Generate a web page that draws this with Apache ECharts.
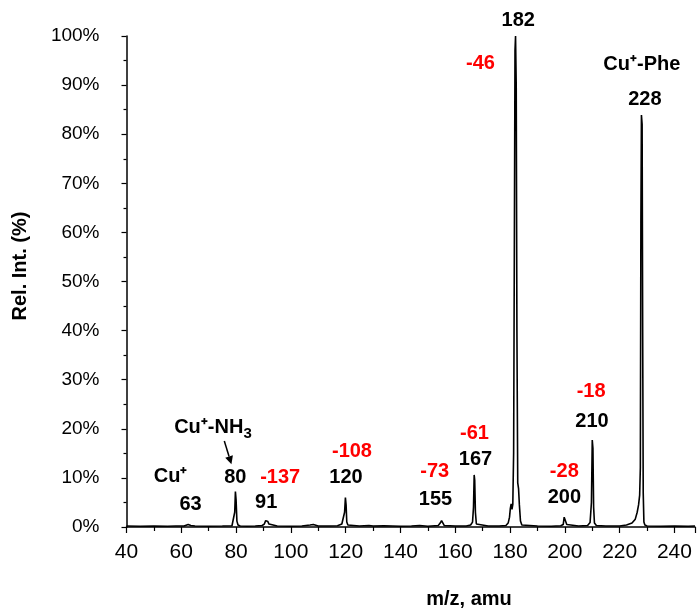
<!DOCTYPE html>
<html><head><meta charset="utf-8">
<script src="https://cdn.jsdelivr.net/npm/echarts@6/dist/echarts.min.js"></script>
<style>html,body{margin:0;padding:0;background:#fff}#c{width:698px;height:610px}</style>
</head><body><div id="c"></div>
<script>
// m/z values of the spectrum trace
const mz = [40,45,50,55,58,61,62.5,63,63.5,65,70,75,78.5,79.2,79.5,79.75,80.0,80.3,80.7,81.5,84,87,89.5,90.3,90.8,91.2,91.6,92.0,92.6,95,100,104,107,107.6,108.2,110,114,117,118.6,119.3,119.6,119.9,120.15,120.4,120.8,121.5,125,128.5,129.2,130,134,137,140,144,147,150,153.8,154.5,155.0,155.4,156,160,164,165.6,166.3,166.65,166.9,167.1,167.35,167.7,168.3,172,176,178.5,179.3,179.8,180.1,180.4,180.7,181.0,181.3,181.55,181.8,182.0,182.25,182.5,182.8,183.1,183.4,183.8,184.3,185,190,195,198.5,199.4,199.75,199.95,200.15,200.35,200.7,201.3,205,208.3,209.2,209.7,210.0,210.25,210.5,210.8,211.5,215,220,222.5,224.5,225.7,226.4,226.9,227.3,227.55,227.75,227.95,228.2,228.4,228.6,228.85,229.2,229.5,230,235,240,245,247.5];
// relative intensity (%)
const relInt = [0.2,0.15,0.2,0.15,0.2,0.2,0.5,0.7,0.3,0.2,0.15,0.2,0.25,0.6,3.0,7.2,5.5,1.2,0.4,0.2,0.15,0.2,0.3,0.6,1.3,0.9,1.1,0.6,0.3,0.2,0.15,0.2,0.4,0.3,0.5,0.2,0.2,0.25,0.6,1.0,3.0,6.0,4.5,1.0,0.4,0.2,0.2,0.3,0.5,0.2,0.25,0.2,0.15,0.2,0.3,0.15,0.3,0.8,1.3,0.9,0.3,0.2,0.2,0.4,1.0,4.0,10.6,9.5,3.0,0.6,0.25,0.2,0.2,0.3,0.8,2.0,3.8,4.7,3.6,4.6,15,55,97,100,90,40,9,7.8,4.5,1.2,0.4,0.2,0.2,0.15,0.25,0.5,2.0,2.4,1.6,1.9,0.5,0.2,0.2,0.3,0.9,5.0,17.7,16,4.0,0.8,0.3,0.2,0.2,0.4,0.8,1.6,3.0,4.5,6.5,12,62,83.9,82,40,7,1.0,0.4,0.6,0.2,0.15,0.2,0.15,0.2];

// centred annotations
const annoText  = ['182','-46','Cu\u207A-Phe','228','-18','210','-28','200','-61','167','-73','155','-108','120','-137','91','80','Cu\u207A','63'];
const annoRed   = [false,true,false,false,true,false,true,false,true,false,true,false,true,false,true,false,false,false,false];
const annoX     = [183.0,169.2,228.1,229.2,209.6,209.9,199.8,199.8,167.0,167.4,152.5,152.8,122.3,120.1,96.1,91.0,79.7,56.1,63.4];
const annoY     = [103.1,94.5,94.1,87.0,27.7,21.4,11.4,6.1,19.1,13.8,11.4,5.7,15.3,10.0,10.0,4.9,10.0,10.2,4.5];
// Cu+-NH3 label (main part right-aligned, subscript left-aligned)
const nh3Main = 'Cu\u207A-NH';
const nh3Sub  = '3';
const nh3At   = [82.65, 20.2];
const nh3SubAt = [82.75, 19.0];
const arrowFrom = [75.7,17.5];
const arrowTo   = [78.3,12.8];

const xTitle = 'm/z, amu';
const yTitle = 'Rel. Int. (%)';
const FONT = "'Liberation Sans', Arial, Helvetica, sans-serif";

const data = mz.map((m,i)=>[m, relInt[i]]);
const chart = echarts.init(document.getElementById('c'), null, {renderer:'canvas'});
chart.setOption({
  animation:false,
  backgroundColor:'#fff',
  grid:{left:126.5,right:0,top:36,bottom:83,containLabel:false},
  xAxis:{type:'value',min:40,max:247.5,interval:20,
    axisLine:{lineStyle:{color:'#000',width:1.5}},
    axisTick:{show:true,length:6,lineStyle:{color:'#000',width:1.2}},
    minorTick:{show:true,splitNumber:2,length:4,lineStyle:{color:'#000',width:1.2}},
    splitLine:{show:false},
    axisLabel:{color:'#000',fontSize:21,fontFamily:FONT,margin:15,
      formatter:v=> (v>245?'':String(v))}},
  yAxis:{type:'value',min:0,max:100,interval:10,
    axisLine:{show:true,lineStyle:{color:'#000',width:1.5}},
    axisTick:{show:true,length:5,lineStyle:{color:'#000',width:1.2}},
    minorTick:{show:true,splitNumber:2,length:3,lineStyle:{color:'#000',width:1.2}},
    splitLine:{show:false},
    axisLabel:{color:'#000',fontSize:19,fontFamily:FONT,margin:27,formatter:'{value}%'}},
  series:[{type:'line',data:data,showSymbol:false,symbol:'none',clip:true,
    lineStyle:{color:'#000',width:1.6},z:3}]
});

function px(p){return chart.convertToPixel({gridIndex:0}, p);}
const g = [];
annoText.forEach((t,i)=>{
  const p = px([annoX[i], annoY[i]]);
  g.push({type:'text',x:p[0],y:p[1],style:{text:t,fill:annoRed[i]?'#ff0000':'#000',
    font:'bold 20px '+FONT,textAlign:'center',textVerticalAlign:'middle'},z:10});
});
const nm = px(nh3At), ns = px(nh3SubAt);
g.push({type:'text',x:nm[0],y:nm[1],style:{text:nh3Main,fill:'#000',font:'bold 20px '+FONT,textAlign:'right',textVerticalAlign:'middle'},z:10});
g.push({type:'text',x:ns[0],y:ns[1],style:{text:nh3Sub,fill:'#000',font:'bold 15px '+FONT,textAlign:'left',textVerticalAlign:'middle'},z:10});
const a0 = px(arrowFrom), a1 = px(arrowTo);
const dx=a1[0]-a0[0], dy=a1[1]-a0[1], L=Math.hypot(dx,dy), ux=dx/L, uy=dy/L;
const hl=8, hw=4;
const bx=a1[0]-ux*hl, by=a1[1]-uy*hl;
g.push({type:'line',shape:{x1:a0[0],y1:a0[1],x2:bx,y2:by},style:{stroke:'#000',lineWidth:1.5},z:10});
g.push({type:'polygon',shape:{points:[[a1[0],a1[1]],[bx-uy*hw,by+ux*hw],[bx+uy*hw,by-ux*hw]]},style:{fill:'#000'},z:10});
// axis titles
g.push({type:'text',x:469,y:599,style:{text:xTitle,font:'bold 20px '+FONT,fill:'#000',textAlign:'center',textVerticalAlign:'middle'},z:10});
g.push({type:'text',x:20,y:266,rotation:Math.PI/2,style:{text:yTitle,font:'bold 20px '+FONT,fill:'#000',textAlign:'center',textVerticalAlign:'middle'},z:10});
chart.setOption({graphic:g});
</script></body></html>
